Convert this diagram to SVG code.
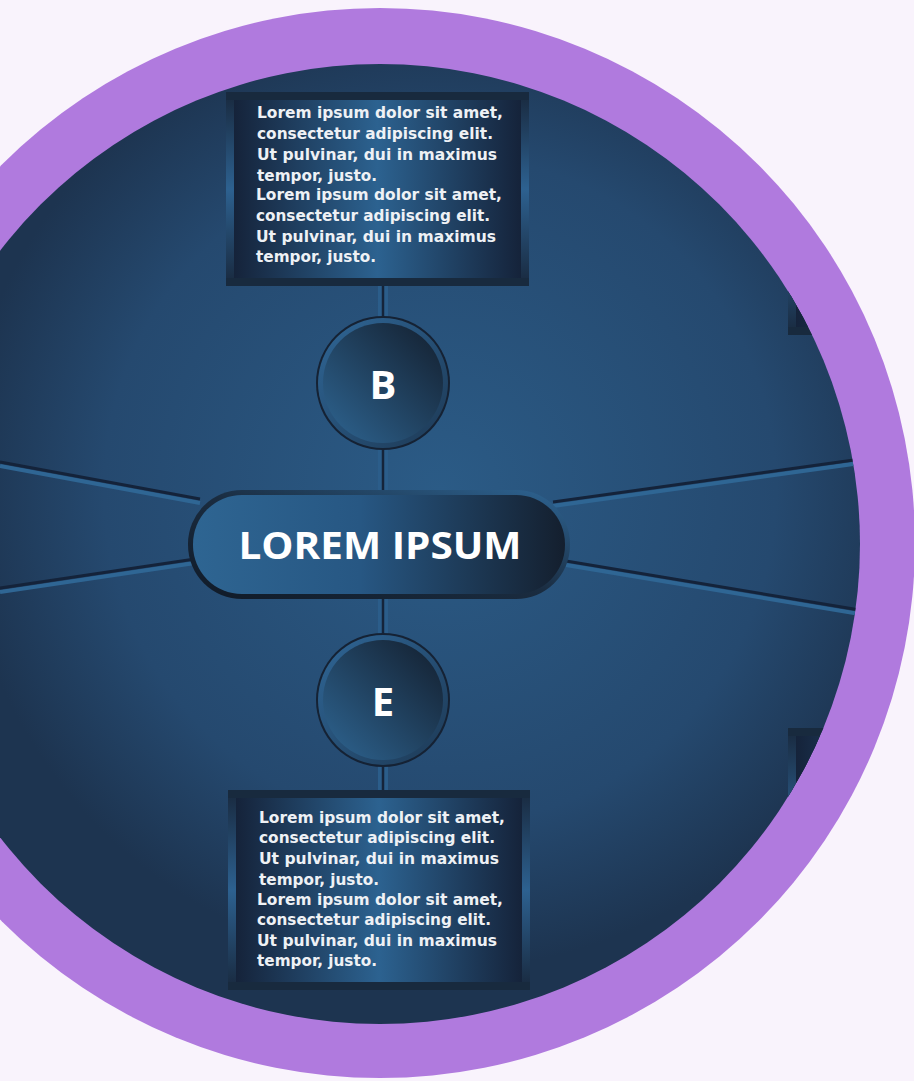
<svg xmlns="http://www.w3.org/2000/svg" width="914" height="1081" viewBox="0 0 914 1081">
<defs>
<radialGradient id="bgGrad" cx="440" cy="490" r="480" gradientUnits="userSpaceOnUse">
<stop offset="0" stop-color="#2b5b86"/>
<stop offset="0.7" stop-color="#25496f"/>
<stop offset="1" stop-color="#1d3450"/>
</radialGradient>
<linearGradient id="panelGrad" x1="0" y1="0" x2="1" y2="0">
<stop offset="0" stop-color="#15233a"/>
<stop offset="0.5" stop-color="#2c6290"/>
<stop offset="1" stop-color="#15233a"/>
</linearGradient>
<linearGradient id="sideGrad" x1="0" y1="0" x2="0" y2="1">
<stop offset="0" stop-color="#1a2d44"/>
<stop offset="0.5" stop-color="#2d6190"/>
<stop offset="1" stop-color="#1a2d44"/>
</linearGradient>
<linearGradient id="pillGrad" x1="0" y1="0" x2="1" y2="0">
<stop offset="0" stop-color="#2e6592"/>
<stop offset="0.45" stop-color="#275783"/>
<stop offset="1" stop-color="#141f2e"/>
</linearGradient>
<linearGradient id="pillRim" x1="0" y1="1" x2="1" y2="0">
<stop offset="0" stop-color="#101a27"/>
<stop offset="0.5" stop-color="#1a2c40"/>
<stop offset="1" stop-color="#2e6594"/>
</linearGradient>
<linearGradient id="circGrad" x1="0" y1="1" x2="1" y2="0">
<stop offset="0" stop-color="#2e6592"/>
<stop offset="1" stop-color="#131e2d"/>
</linearGradient>
<linearGradient id="ringGrad" x1="0" y1="0" x2="1" y2="1">
<stop offset="0" stop-color="#2f6696"/>
<stop offset="1" stop-color="#1d3955"/>
</linearGradient>
<clipPath id="inner"><circle cx="380" cy="544" r="480"/></clipPath>
</defs>
<style>
.txt{font-family:"DejaVu Sans","Liberation Sans",sans-serif;font-weight:bold;font-size:15px;fill:#eef1f5}
.lbl{font-family:"Open Sans","DejaVu Sans",sans-serif;font-weight:700;fill:#ffffff;text-anchor:middle}
.gDark{stroke:#14233a;stroke-width:3;fill:none}
.gLight{stroke:#2f6694;stroke-width:4;fill:none}
.frame{fill:#182a3e}
.panel{fill:url(#panelGrad)}
.side{fill:url(#sideGrad)}
</style>
<rect width="914" height="1081" fill="#f9f3fc"/>
<circle cx="380" cy="543" r="535" fill="#b07ade"/>
<circle cx="380" cy="544" r="480" fill="url(#bgGrad)"/>
<g clip-path="url(#inner)">
<g id="connectors">
<line class="gLight" x1="0" y1="466" x2="200" y2="503"/>
<line class="gDark" x1="0" y1="462" x2="200" y2="499"/>
<line class="gLight" x1="0" y1="592" x2="195" y2="563"/>
<line class="gDark" x1="0" y1="588" x2="195" y2="559"/>
<line class="gLight" x1="553" y1="506" x2="860" y2="463"/>
<line class="gDark" x1="553" y1="502" x2="860" y2="459"/>
<line class="gLight" x1="566" y1="565" x2="860" y2="614"/>
<line class="gDark" x1="566" y1="561" x2="860" y2="610"/>
<rect x="378" y="284" width="10" height="36" fill="#2b5d8a"/>
<line x1="383" y1="284" x2="383" y2="320" stroke="#15243a" stroke-width="2.5"/>
<rect x="378" y="448" width="10" height="46" fill="#2b5d8a"/>
<line x1="383" y1="448" x2="383" y2="494" stroke="#15243a" stroke-width="2.5"/>
<rect x="378" y="595" width="10" height="41" fill="#2b5d8a"/>
<line x1="383" y1="595" x2="383" y2="636" stroke="#15243a" stroke-width="2.5"/>
<rect x="378" y="764" width="10" height="28" fill="#2b5d8a"/>
<line x1="383" y1="764" x2="383" y2="792" stroke="#15243a" stroke-width="2.5"/>
</g>
<g id="box-top-right">
<rect class="frame" x="788" y="140" width="302" height="195"/>
<rect class="side" x="788" y="148" width="8" height="179"/>
<rect class="panel" x="796" y="148" width="287" height="179"/>
</g>
<g id="box-bottom-right">
<rect class="frame" x="788" y="728" width="302" height="200"/>
<rect class="side" x="788" y="736" width="8" height="184"/>
<rect class="panel" x="796" y="736" width="287" height="184"/>
</g>
</g>
<g id="box-top">
<rect class="frame" x="226" y="92" width="303" height="194"/>
<rect class="side" x="226" y="100" width="8" height="178"/>
<rect class="side" x="521" y="100" width="8" height="178"/>
<rect class="panel" x="234" y="100" width="287" height="178"/>
<text class="txt" x="257" y="118" textLength="246" lengthAdjust="spacingAndGlyphs">Lorem ipsum dolor sit amet,</text>
<text class="txt" x="257" y="139" textLength="236" lengthAdjust="spacingAndGlyphs">consectetur adipiscing elit.</text>
<text class="txt" x="257" y="160" textLength="240" lengthAdjust="spacingAndGlyphs">Ut pulvinar, dui in maximus</text>
<text class="txt" x="257" y="181" textLength="120" lengthAdjust="spacingAndGlyphs">tempor, justo.</text>
<text class="txt" x="256" y="200" textLength="246" lengthAdjust="spacingAndGlyphs">Lorem ipsum dolor sit amet,</text>
<text class="txt" x="256" y="221" textLength="234" lengthAdjust="spacingAndGlyphs">consectetur adipiscing elit.</text>
<text class="txt" x="256" y="242" textLength="240" lengthAdjust="spacingAndGlyphs">Ut pulvinar, dui in maximus</text>
<text class="txt" x="256" y="262" textLength="120" lengthAdjust="spacingAndGlyphs">tempor, justo.</text>
</g>
<g id="node-b">
<circle cx="383" cy="383" r="67" fill="#152234"/>
<circle cx="383" cy="383" r="65" fill="url(#ringGrad)"/>
<circle cx="383" cy="383" r="60" fill="url(#circGrad)"/>
<text class="lbl" x="383" y="399" font-size="40">B</text>
</g>
<g id="node-center">
<rect x="188" y="490" width="382" height="109" rx="54" fill="url(#pillRim)"/>
<rect x="193" y="495" width="372" height="99" rx="49" fill="url(#pillGrad)"/>
<text class="lbl" x="380" y="559" font-size="37" textLength="283" lengthAdjust="spacingAndGlyphs">LOREM IPSUM</text>
</g>
<g id="node-e">
<circle cx="383" cy="700" r="67" fill="#152234"/>
<circle cx="383" cy="700" r="65" fill="url(#ringGrad)"/>
<circle cx="383" cy="700" r="60" fill="url(#circGrad)"/>
<text class="lbl" x="383" y="716" font-size="40">E</text>
</g>
<g id="box-bottom">
<rect class="frame" x="228" y="790" width="302" height="200"/>
<rect class="side" x="228" y="798" width="8" height="184"/>
<rect class="side" x="522" y="798" width="8" height="184"/>
<rect class="panel" x="236" y="798" width="286" height="184"/>
<text class="txt" x="259" y="823" textLength="246" lengthAdjust="spacingAndGlyphs">Lorem ipsum dolor sit amet,</text>
<text class="txt" x="259" y="843" textLength="236" lengthAdjust="spacingAndGlyphs">consectetur adipiscing elit.</text>
<text class="txt" x="259" y="864" textLength="240" lengthAdjust="spacingAndGlyphs">Ut pulvinar, dui in maximus</text>
<text class="txt" x="259" y="885" textLength="120" lengthAdjust="spacingAndGlyphs">tempor, justo.</text>
<text class="txt" x="257" y="905" textLength="246" lengthAdjust="spacingAndGlyphs">Lorem ipsum dolor sit amet,</text>
<text class="txt" x="257" y="925" textLength="234" lengthAdjust="spacingAndGlyphs">consectetur adipiscing elit.</text>
<text class="txt" x="257" y="946" textLength="240" lengthAdjust="spacingAndGlyphs">Ut pulvinar, dui in maximus</text>
<text class="txt" x="257" y="966" textLength="120" lengthAdjust="spacingAndGlyphs">tempor, justo.</text>
</g>
</svg>
